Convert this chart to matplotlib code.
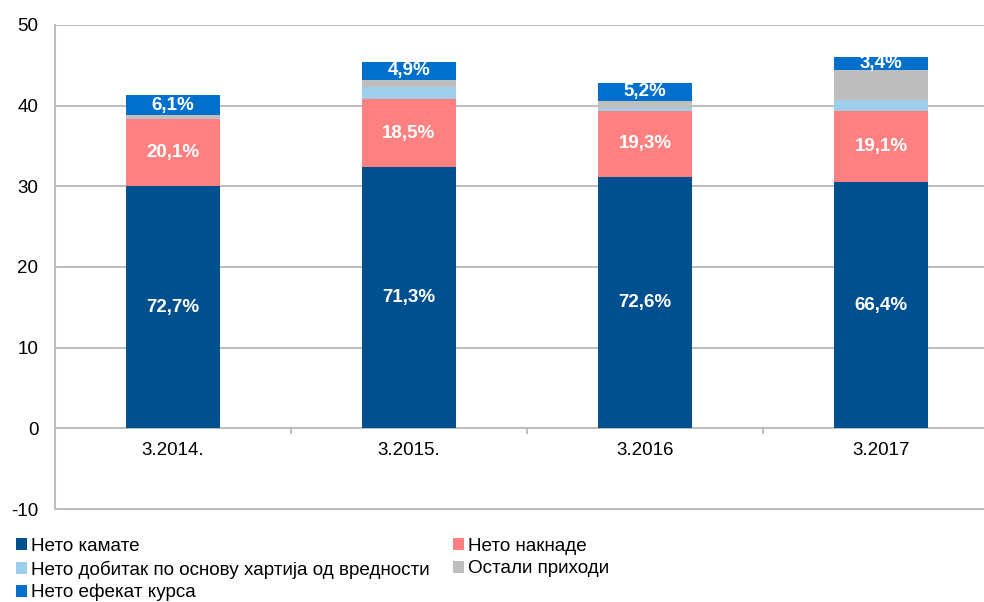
import numpy as np
import matplotlib
matplotlib.use('Agg')
import matplotlib.pyplot as plt

plt.rcParams['font.family'] = ['Liberation Sans', 'DejaVu Sans']
plt.rcParams['axes.unicode_minus'] = False

# ── data ─────────────────────────────────────────────────────────────────────
categories = ['3.2014.', '3.2015.', '3.2016', '3.2017']
series_names = ['Нето камате', 'Нето накнаде',
                'Нето добитак по основу хартија од вредности',
                'Остали приходи', 'Нето ефекат курса']
neto_kamate   = [30.0, 32.4, 31.1, 30.5]
neto_naknade  = [8.3, 8.4, 8.3, 8.8]
neto_hartije  = [0.0, 1.5, 0.3, 1.4]
ostali        = [0.5, 0.9, 0.9, 3.7]
neto_kurs     = [2.5, 2.2, 2.2, 1.6]

lbl_kamate  = ['72,7%', '71,3%', '72,6%', '66,4%']
lbl_naknade = ['20,1%', '18,5%', '19,3%', '19,1%']
lbl_kurs    = ['6,1%', '4,9%', '5,2%', '3,4%']

COLORS = ['#00508F', '#FF8080', '#9DCFEA', '#BEBEBE', '#0070CC']
GRID = '#BEBEBE'

fig = plt.figure(figsize=(9.84, 6.02), dpi=100)
ax = fig.add_axes([55 / 984, 93 / 602, 944 / 984, 484 / 602])

x = np.arange(len(categories)) + 0.5
series = [neto_kamate, neto_naknade, neto_hartije, ostali, neto_kurs]
bottom = np.zeros(len(categories))
bars = []
for vals, col, name in zip(series, COLORS, series_names):
    b = ax.bar(x, vals, 0.4, bottom=bottom, color=col, label=name, zorder=3)
    bars.append(b)
    bottom = bottom + np.array(vals)

# segment labels
txt = dict(ha='center', va='center', color='white', fontsize=13.5,
           fontweight='bold', zorder=4)
for i in range(len(categories)):
    ax.text(x[i], neto_kamate[i] / 2, lbl_kamate[i], **txt)
    ax.text(x[i], neto_kamate[i] + neto_naknade[i] / 2, lbl_naknade[i], **txt)
    ax.text(x[i], bottom[i] - neto_kurs[i] / 2, lbl_kurs[i], **txt)

# axes styling
ax.set_xlim(0, 4)
ax.set_ylim(-10, 50)
ax.set_yticks(np.arange(-10, 51, 10))
for v in range(0, 51, 10):
    ax.axhline(v, color=GRID, lw=1.5, zorder=1)
for s in ['top', 'right']:
    ax.spines[s].set_visible(False)
for s in ['left', 'bottom']:
    ax.spines[s].set_color(GRID)
    ax.spines[s].set_linewidth(1.5)
ax.tick_params(axis='y', length=0, labelsize=13.5, pad=12)
ax.set_xticks([])
# category tick marks on zero line
for t in range(1, 4):
    ax.plot([t, t], [0, -0.6], color=GRID, lw=1.5, zorder=2, clip_on=False)
for i, c in enumerate(categories):
    ax.text(x[i], -2.7, c, ha='center', va='center', fontsize=13.5, color='black')

# legend in two columns
leg_kw = dict(frameon=False, fontsize=13.6, handlelength=0.6, handleheight=0.6,
              handletextpad=0.2, labelspacing=0.28, borderaxespad=0, borderpad=0)
fig.legend([bars[0], bars[2], bars[4]],
           [series_names[0], series_names[2], series_names[4]],
           loc='upper left', bbox_to_anchor=(16 / 984, 1 - 538 / 602), **leg_kw)
fig.legend([bars[1], bars[3]], [series_names[1], series_names[3]],
           loc='upper left', bbox_to_anchor=(453 / 984, 1 - 538 / 602), **leg_kw)

fig.savefig('out.png', dpi=100)
